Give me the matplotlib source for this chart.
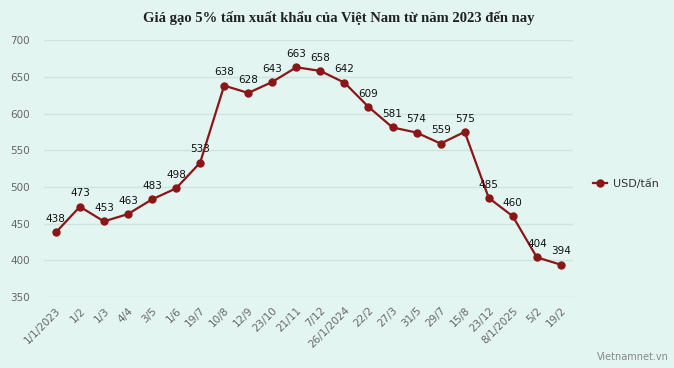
import matplotlib
matplotlib.use("Agg")
import matplotlib.pyplot as plt

categories = ["1/1/2023", "1/2", "1/3", "4/4", "3/5", "1/6", "19/7", "10/8", "12/9",
              "23/10", "21/11", "7/12", "26/1/2024", "22/2", "27/3", "31/5", "29/7",
              "15/8", "23/12", "8/1/2025", "5/2", "19/2"]
prices = [438, 473, 453, 463, 483, 498, 533, 638, 628, 643, 663, 658, 642, 609,
          581, 574, 559, 575, 485, 460, 404, 394]
yticks = [350, 400, 450, 500, 550, 600, 650, 700]
title = "Giá gạo 5% tấm xuất khẩu của Việt Nam từ năm 2023 đến nay"
series_name = "USD/tấn"

bg = "#e3f5f1"
line_color = "#8b1517"

fig = plt.figure(figsize=(6.74, 3.68), dpi=100)
fig.patch.set_facecolor(bg)
ax = fig.add_axes([0.065, 0.193, 0.785, 0.698])
ax.set_facecolor(bg)

x = list(range(len(categories)))
ax.plot(x, prices, color=line_color, lw=1.6, marker="o", ms=5, label=series_name, zorder=3)
for xi, v in zip(x, prices):
    ax.annotate(str(v), (xi, v), xytext=(0, 6), textcoords="offset points",
                ha="center", va="bottom", fontsize=7.5, color="#111111", family="DejaVu Sans")

ax.set_xlim(-0.5, len(categories) - 0.5)
ax.set_ylim(350, 700)
ax.set_yticks(yticks)
ax.set_xticks(x)
ax.set_xticklabels(categories, rotation=45, ha="right", rotation_mode="anchor",
                   fontsize=7.5, color="#666666")
ax.tick_params(axis="y", labelsize=7.5, labelcolor="#666666", length=0, pad=24)
ax.tick_params(axis="x", length=0, pad=6)
for lbl in ax.get_yticklabels():
    lbl.set_horizontalalignment("left")
ax.grid(axis="y", color="#d0e4df", lw=1)
ax.set_axisbelow(True)
for s in ax.spines.values():
    s.set_visible(False)

fig.text(0.503, 0.95, title, ha="center", va="center", fontsize=10.5,
         fontweight="bold", family="Liberation Serif", color="#222222")

leg = fig.legend(loc="center left", bbox_to_anchor=(0.865, 0.5), frameon=False,
                 fontsize=8, handlelength=1.3, handletextpad=0.5, labelcolor="#333333")

fig.text(0.993, 0.03, "Vietnamnet.vn", ha="right", va="center", fontsize=7, color="#888888")

fig.savefig("out.png", dpi=100, facecolor=bg)
